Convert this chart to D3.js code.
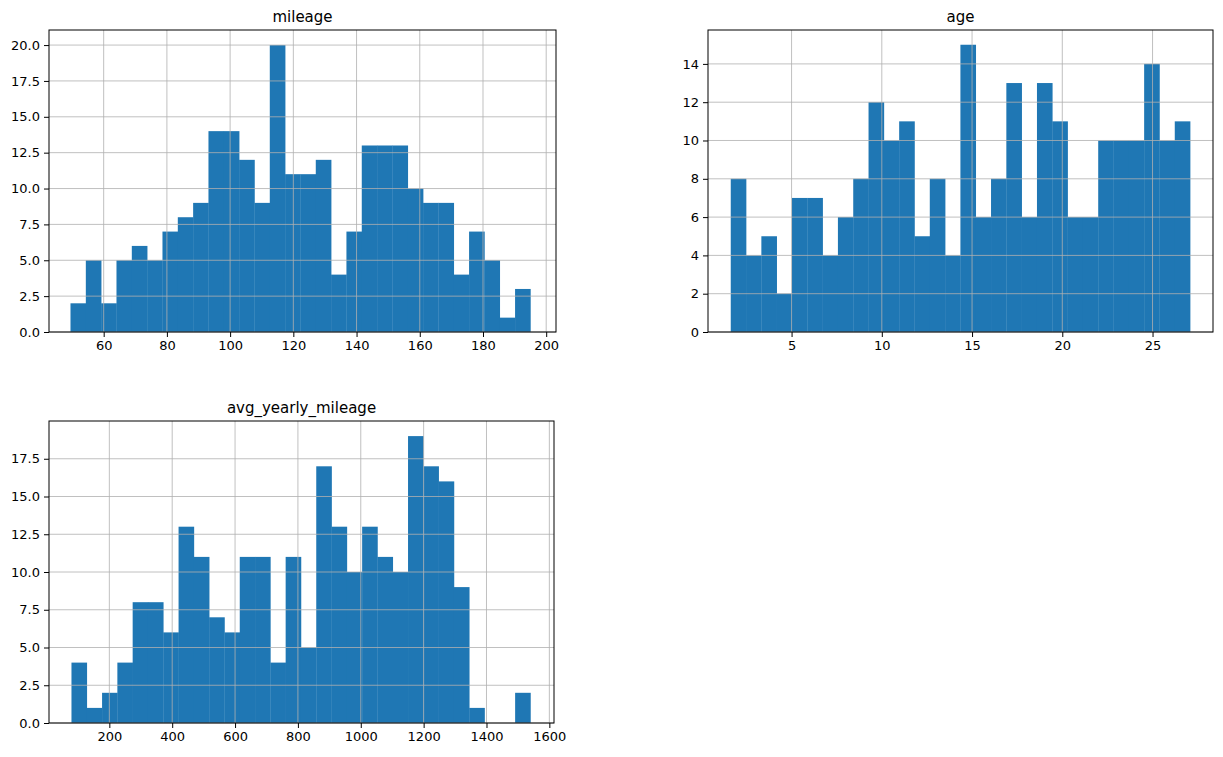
<!DOCTYPE html>
<html><head><meta charset="utf-8">
<script src="https://cdn.jsdelivr.net/npm/d3@7"></script>
<style>body{margin:0;background:#fff}text{font-family:"DejaVu Sans",sans-serif}</style>
</head><body><svg id="c" width="1223" height="757"></svg>
<script>
const mileageCounts=[2,5,2,5,6,5,7,8,9,14,14,12,9,20,11,11,12,4,7,13,13,13,10,9,9,4,7,5,1,3];
const mileageRange=[49.5,195.0];
const ageCounts=[8,4,5,2,7,7,4,6,8,12,10,11,5,8,4,15,6,8,13,6,13,11,6,6,10,10,10,14,10,11];
const ageRange=[1.63,27.08];
const avgCounts=[4,1,2,4,8,8,6,13,11,7,6,11,11,4,11,5,17,13,10,13,11,10,19,17,16,9,1,0,0,2];
const avgRange=[79.5,1539.8];
const mileageXTicks=[60,80,100,120,140,160,180,200];
const mileageYTicks=[0,2.5,5,7.5,10,12.5,15,17.5,20];
const ageXTicks=[5,10,15,20,25];
const ageYTicks=[0,2,4,6,8,10,12,14];
const avgXTicks=[200,400,600,800,1000,1200,1400,1600];
const avgYTicks=[0,2.5,5,7.5,10,12.5,15,17.5];

const svg=d3.select("#c");
function hist(o){
  const g=svg.append("g");
  const x=d3.scaleLinear().domain(o.xd).range([o.l,o.r]);
  const y=d3.scaleLinear().domain([0,o.ymax]).range([o.b,o.t]);
  const n=o.counts.length,w=(o.range[1]-o.range[0])/n;
  g.selectAll("rect").data(o.counts).join("rect")
    .attr("x",(d,i)=>x(o.range[0]+i*w)).attr("width",(d,i)=>x(o.range[0]+(i+1)*w)-x(o.range[0]+i*w)+0.3)
    .attr("y",d=>y(d)).attr("height",d=>y(0)-y(d)).attr("fill","#1f77b4");
  const grid=g.append("g").attr("stroke","#b0b0b0").attr("stroke-width",0.8);
  o.xt.forEach(v=>grid.append("line").attr("x1",x(v)).attr("x2",x(v)).attr("y1",o.t).attr("y2",o.b));
  o.yt.forEach(v=>grid.append("line").attr("y1",y(v)).attr("y2",y(v)).attr("x1",o.l).attr("x2",o.r));
  const fmt=o.fmt||(d=>d);
  g.append("g").attr("transform",`translate(0,${o.b})`).call(d3.axisBottom(x).tickValues(o.xt).tickSize(5).tickPadding(4).tickFormat(d=>d)).call(a=>{a.select(".domain").remove();a.selectAll("text").attr("font-size",13).attr("fill","#000").attr("font-family","DejaVu Sans")});
  g.append("g").attr("transform",`translate(${o.l},0)`).call(d3.axisLeft(y).tickValues(o.yt).tickSize(5).tickPadding(4).tickFormat(fmt)).call(a=>{a.select(".domain").remove();a.selectAll("text").attr("font-size",13).attr("fill","#000").attr("font-family","DejaVu Sans")});
  g.append("rect").attr("x",o.l).attr("y",o.t).attr("width",o.r-o.l).attr("height",o.b-o.t).attr("fill","none").attr("stroke","#000").attr("stroke-width",1);
  g.append("text").attr("x",(o.l+o.r)/2).attr("y",o.t-8).attr("text-anchor","middle").attr("font-size",15).text(o.title);
}
const f1=d=>d3.format(".1f")(d);
hist({title:"mileage",counts:mileageCounts,range:mileageRange,xd:[42.7,203.1],ymax:21.05,l:49,r:556,t:30,b:332,xt:mileageXTicks,yt:mileageYTicks,fmt:f1});
hist({title:"age",counts:ageCounts,range:ageRange,xd:[0.37,28.35],ymax:15.77,l:708,r:1213,t:30,b:332,xt:ageXTicks,yt:ageYTicks});
hist({title:"avg_yearly_mileage",counts:avgCounts,range:avgRange,xd:[8,1614.8],ymax:20.0,l:49,r:554,t:421,b:723,xt:avgXTicks,yt:avgYTicks,fmt:f1});
</script></body></html>
